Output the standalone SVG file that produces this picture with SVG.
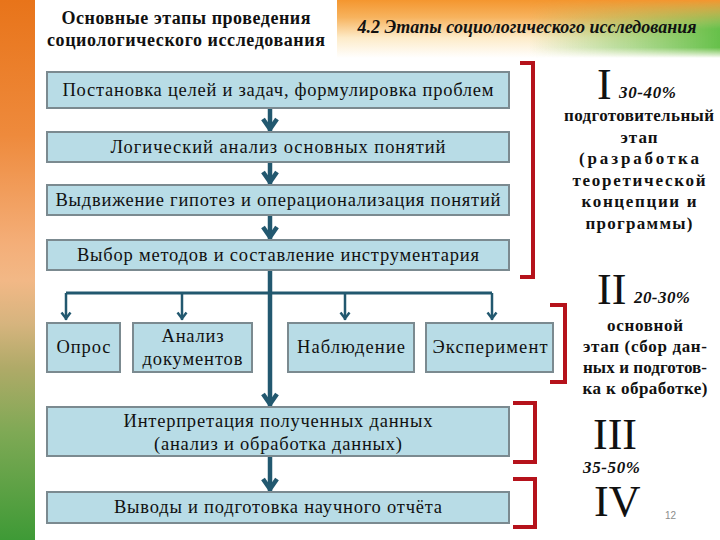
<svg xmlns="http://www.w3.org/2000/svg" width="720" height="540" viewBox="0 0 720 540">
<defs>
  <linearGradient id="strip" x1="0" y1="0" x2="0" y2="1">
    <stop offset="0" stop-color="#E8741A"/>
    <stop offset="0.25" stop-color="#EE8A3C"/>
    <stop offset="0.45" stop-color="#F4AE78"/>
    <stop offset="0.52" stop-color="#F2B886"/>
    <stop offset="0.6" stop-color="#D6B47E"/>
    <stop offset="0.68" stop-color="#B0AA68"/>
    <stop offset="0.8" stop-color="#7FA955"/>
    <stop offset="1" stop-color="#3E9A36"/>
  </linearGradient>
  <linearGradient id="hdr" x1="0" y1="0" x2="0" y2="1">
    <stop offset="0" stop-color="#F4962F"/>
    <stop offset="0.3" stop-color="#F7B35E"/>
    <stop offset="0.65" stop-color="#FDEBC8"/>
    <stop offset="1" stop-color="#FFFFFF"/>
  </linearGradient>
  <linearGradient id="grn" x1="0" y1="0" x2="1" y2="0">
    <stop offset="0" stop-color="#7CC85A" stop-opacity="0"/>
    <stop offset="0.5" stop-color="#7CC85A" stop-opacity="0"/>
    <stop offset="1" stop-color="#66C04A" stop-opacity="1"/>
  </linearGradient>
  <linearGradient id="fadeV" x1="0" y1="0" x2="0" y2="1">
    <stop offset="0" stop-color="#000"/>
    <stop offset="0.5" stop-color="#fff"/>
    <stop offset="0.82" stop-color="#fff"/>
    <stop offset="1" stop-color="#000"/>
  </linearGradient>
  <mask id="gm"><rect x="337" y="0" width="383" height="58" fill="url(#fadeV)"/></mask>
  <marker id="ah" markerUnits="userSpaceOnUse" markerWidth="20" markerHeight="20" refX="12" refY="8" orient="auto" overflow="visible">
    <path d="M0 1 L10 8 L0 15" fill="none" stroke="#22586F" stroke-width="4.5"/>
  </marker>
  <marker id="ahs" markerUnits="userSpaceOnUse" markerWidth="12" markerHeight="12" refX="7.5" refY="5" orient="auto" overflow="visible">
    <path d="M0 0.5 L6 5 L0 9.5" fill="none" stroke="#22586F" stroke-width="2.5"/>
  </marker>
</defs>
<style>
  .bx{fill:#B8DCE6;stroke:#7B8A90;stroke-width:2}
  .t{font-size:18.5px;fill:#111;text-anchor:middle}
  .s{font-size:17px;font-weight:bold;fill:#111;text-anchor:middle}
  .h{font-size:18px;font-weight:bold;fill:#111;text-anchor:middle}
  .bi{font-size:18px;font-weight:bold;font-style:italic;fill:#111;text-anchor:middle}
  .rn{font-size:44px;fill:#111}
  .pc{font-size:17px;font-weight:bold;font-style:italic;fill:#111}
  .rb{fill:none;stroke:#B5121B;stroke-width:4}
  .ar{fill:none;stroke:#22586F;stroke-width:4.5;marker-end:url(#ah)}
  .ln{fill:none;stroke:#22586F;stroke-width:3}
  .br{fill:none;stroke:#22586F;stroke-width:2.5;marker-end:url(#ahs)}
</style>
<rect width="720" height="540" fill="#fff"/>
<rect x="0" y="0" width="35" height="540" fill="url(#strip)"/>
<rect x="337" y="0" width="383" height="58" fill="url(#hdr)"/>
<rect x="337" y="0" width="383" height="58" fill="url(#grn)" mask="url(#gm)"/>

<g font-family="Liberation Serif, Times New Roman, DejaVu Serif, serif">
<g id="title">
  <text class="h" x="186" y="24" textLength="249">Основные этапы проведения</text>
  <text class="h" x="186" y="46" textLength="278">социологического исследования</text>
</g>
<g id="header">
  <text class="bi" x="527" y="33" textLength="339">4.2 Этапы социологического исследования</text>
</g>

<g id="connectors">
  <path class="ar" d="M270 108 V131"/>
  <path class="ar" d="M270 162 V184"/>
  <path class="ar" d="M270 215 V239"/>
  <path class="ar" d="M270 270 V406"/>
  <path class="ar" d="M270 456 V491"/>
  <path class="ln" d="M66 293 H492"/>
  <path class="br" d="M66 293 V320"/>
  <path class="br" d="M182 293 V320"/>
  <path class="br" d="M345 293 V320"/>
  <path class="br" d="M492 293 V320"/>
</g>

<g id="n1"><rect class="bx" x="47" y="72" width="462" height="36"/>
  <text class="t" x="278" y="96" textLength="431">Постановка целей и задач, формулировка проблем</text></g>
<g id="n2"><rect class="bx" x="47" y="132" width="462" height="30"/>
  <text class="t" x="278" y="153" textLength="335">Логический анализ основных понятий</text></g>
<g id="n3"><rect class="bx" x="47" y="185" width="462" height="30"/>
  <text class="t" x="278" y="206" textLength="445">Выдвижение гипотез и операционализация понятий</text></g>
<g id="n4"><rect class="bx" x="47" y="240" width="462" height="30"/>
  <text class="t" x="278" y="261" textLength="402">Выбор методов и составление инструментария</text></g>

<g id="n5"><rect class="bx" x="47" y="323" width="73" height="49"/>
  <text class="t" x="83.5" y="353" textLength="54">Опрос</text></g>
<g id="n6"><rect class="bx" x="133" y="323" width="119" height="49"/>
  <text class="t" x="192.5" y="342" textLength="62">Анализ</text>
  <text class="t" x="192.5" y="365" textLength="100">документов</text></g>
<g id="n7"><rect class="bx" x="288" y="323" width="126" height="49"/>
  <text class="t" x="351" y="353" textLength="108">Наблюдение</text></g>
<g id="n8"><rect class="bx" x="426" y="323" width="127" height="49"/>
  <text class="t" x="490" y="353" textLength="115">Эксперимент</text></g>

<g id="n9"><rect class="bx" x="47" y="407" width="462" height="49"/>
  <text class="t" x="278" y="427" textLength="309">Интерпретация полученных данных</text>
  <text class="t" x="278" y="450" textLength="248">(анализ и обработка данных)</text></g>
<g id="n10"><rect class="bx" x="47" y="492" width="462" height="31"/>
  <text class="t" x="278" y="513" textLength="328">Выводы и подготовка научного отчёта</text></g>

<g id="brackets">
  <path class="rb" d="M520 63 H533 V277 H520"/>
  <path class="rb" d="M550 305 H565 V382 H550"/>
  <path class="rb" d="M513 403 H535 V462 H513"/>
  <path class="rb" d="M513 479 H535 V527 H513"/>
</g>

<g id="stage1">
  <text class="rn" x="597" y="99">I</text>
  <text class="pc" x="619" y="98" textLength="57">30-40%</text>
  <text class="s" x="639" y="121" textLength="150">подготовительный</text>
  <text class="s" x="639" y="143" textLength="37">этап</text>
  <text class="s" x="639" y="164" textLength="120">(разработка</text>
  <text class="s" x="639" y="186" textLength="133">теоретической</text>
  <text class="s" x="639" y="207" textLength="115">концепции и</text>
  <text class="s" x="639" y="229" textLength="107">программы)</text>
</g>
<g id="stage2">
  <text class="rn" x="597" y="304">II</text>
  <text class="pc" x="634" y="303" textLength="56">20-30%</text>
  <text class="s" x="645" y="331" textLength="76">основной</text>
  <text class="s" x="645" y="352" textLength="124">этап (сбор дан-</text>
  <text class="s" x="645" y="373" textLength="124">ных и подготов-</text>
  <text class="s" x="645" y="394" textLength="125">ка к обработке)</text>
</g>
<g id="stage3">
  <text class="rn" x="593" y="449">III</text>
  <text class="pc" x="583" y="473" textLength="57">35-50%</text>
</g>
<g id="stage4">
  <text class="rn" x="594" y="516">IV</text>
</g>
</g>
<text x="665" y="519" font-family="Liberation Sans, Arial, sans-serif" font-size="10" fill="#8C8C8C">12</text>
</svg>
